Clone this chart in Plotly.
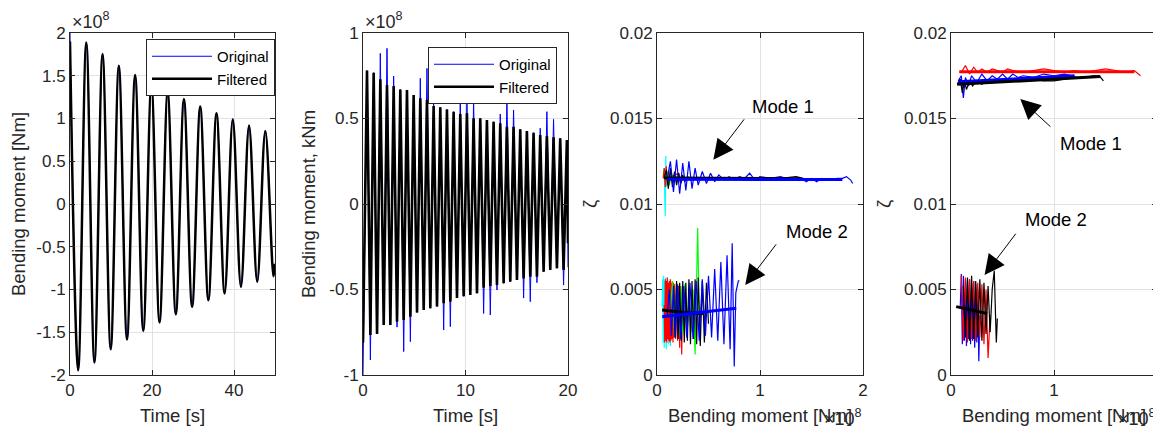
import plotly.graph_objects as go

PAGE_W, PAGE_H = 1161, 428
OFF = 8  # default body margin of the html page
W, H = PAGE_W - OFF, PAGE_H - OFF

# ---------------- Panel 1 : bending moment time history (x1e8 Nm) ----------------
p1_time = [0.00, 1.99, 3.97, 5.96, 7.94, 9.93, 11.91, 13.90, 15.88, 17.87, 19.85, 21.84, 23.82,
           25.81, 27.79, 29.78, 31.76, 33.75, 35.73, 37.72, 39.70, 41.69, 43.67, 45.66, 47.64, 49.63, 50.00]
p1_filtered = [1.90, -1.945, 1.89, -1.855, 1.754, -1.70, 1.617, -1.586, 1.51, -1.484, 1.40, -1.387, 1.31,
               -1.29, 1.227, -1.203, 1.14, -1.125, 1.06, -1.047, 0.99, -0.969, 0.918, -0.91, 0.855, -0.844, -0.70]
p1_original = [2.00, -1.945, 1.89, -1.855, 1.754, -1.70, 1.617, -1.586, 1.51, -1.484, 1.40, -1.387, 1.31,
               -1.29, 1.227, -1.203, 1.14, -1.125, 1.06, -1.047, 0.99, -0.969, 0.918, -0.91, 0.855, -0.844, -0.70]

# ---------------- Panel 2 : bending moment time history (x1e8) ----------------
p2_time = [0.00, 0.39, 0.72, 1.04, 1.37, 1.69, 2.02, 2.34, 2.67, 2.99, 3.32, 3.64, 3.97, 4.29, 4.62, 4.94,
           5.27, 5.59, 5.92, 6.24, 6.57, 6.89, 7.22, 7.54, 7.87, 8.19, 8.52, 8.84, 9.17, 9.49, 9.82, 10.14,
           10.47, 10.79, 11.12, 11.44, 11.77, 12.09, 12.42, 12.74, 13.07, 13.39, 13.72, 14.04, 14.37, 14.69,
           15.02, 15.34, 15.67, 15.99, 16.32, 16.64, 16.97, 17.29, 17.62, 17.94, 18.27, 18.59, 18.92, 19.24,
           19.57, 19.89, 20.00]
p2_filtered = [-0.81, 0.78, -0.766, 0.768, -0.76, 0.729, -0.708, 0.696, -0.708, 0.69, -0.688, 0.67, -0.678,
               0.667, -0.659, 0.637, -0.635, 0.618, -0.62, 0.608, -0.61, 0.573, -0.60, 0.565, -0.58, 0.553,
               -0.571, 0.54, -0.55, 0.526, -0.54, 0.53, -0.532, 0.501, -0.522, 0.501, -0.49, 0.491, -0.48,
               0.481, -0.474, 0.472, -0.464, 0.452, -0.454, 0.452, -0.444, 0.437, -0.435, 0.427, -0.425,
               0.417, -0.425, 0.404, -0.396, 0.398, -0.386, 0.39, -0.376, 0.384, -0.386, 0.374, -0.23]
p2_original = [-1.00, 0.78, -0.912, 0.768, -0.76, 0.881, -0.708, 0.91, -0.708, 0.748, -0.72, 0.67, -0.863,
               0.667, -0.805, 0.637, -0.635, 0.735, -0.62, 0.793, -0.61, 0.60, -0.60, 0.565, -0.737, 0.553,
               -0.717, 0.54, -0.55, 0.618, -0.54, 0.627, -0.532, 0.608, -0.522, 0.501, -0.64, 0.491, -0.649,
               0.481, -0.503, 0.526, -0.464, 0.614, -0.454, 0.55, -0.444, 0.437, -0.55, 0.427, -0.571,
               0.417, -0.46, 0.443, -0.396, 0.54, -0.386, 0.495, -0.376, 0.384, -0.474, 0.374, -0.37]

# ---------------- Panel 3 : damping ratio vs bending moment (x1e8 Nm) ----------------
p3m1_cyan_x = [0.06, 0.07, 0.075, 0.08, 0.085, 0.09, 0.10, 0.11]
p3m1_cyan_y = [0.0116, 0.0121, 0.0105, 0.0093, 0.0128, 0.0110, 0.0118, 0.0114]
p3m1_red_x = [0.06, 0.07, 0.08, 0.09, 0.10, 0.11, 0.12, 0.13, 0.21, 0.23, 0.25]
p3m1_red_y = [0.0115, 0.0121, 0.0110, 0.0122, 0.0111, 0.0119, 0.0113, 0.0116, 0.0118, 0.0112, 0.0115]
p3m1_green_x = [0.08, 0.10, 0.12, 0.14, 0.16, 0.18, 0.20, 0.22, 0.24, 0.26]
p3m1_green_y = [0.0114, 0.0119, 0.0111, 0.0118, 0.0112, 0.0117, 0.0113, 0.0116, 0.0114, 0.0115]
p3m1_black_x = [0.07, 0.09, 0.11, 0.13, 0.15, 0.17, 0.19, 0.21, 0.23, 0.25, 0.27, 0.30, 0.33, 0.36, 0.40,
                0.60, 0.90, 1.20, 1.35, 1.42, 1.38, 1.30]
p3m1_black_y = [0.0115, 0.0120, 0.0109, 0.0121, 0.0110, 0.0119, 0.0111, 0.0118, 0.0112, 0.0117, 0.0113,
                0.0116, 0.0114, 0.0115, 0.0115, 0.0115, 0.0114, 0.0115, 0.0116, 0.0115, 0.0114, 0.0114]
p3m1_blue_x = [0.10, 0.13, 0.16, 0.19, 0.22, 0.25, 0.28, 0.31, 0.34, 0.37, 0.40, 0.44, 0.48, 0.52, 0.56,
               0.60, 0.65, 0.70, 0.75, 0.80, 0.85, 0.90, 0.95, 1.00, 1.10, 1.20, 1.30, 1.40, 1.45, 1.50,
               1.55, 1.60, 1.65, 1.70, 1.75, 1.80, 1.84, 1.88, 1.90]
p3m1_blue_y = [0.0115, 0.0125, 0.0107, 0.0126, 0.0106, 0.0124, 0.0108, 0.0125, 0.0109, 0.0121, 0.0111,
               0.0119, 0.0112, 0.0118, 0.0113, 0.0117, 0.0114, 0.0116, 0.0114, 0.0116, 0.0115, 0.0118,
               0.0114, 0.0116, 0.0115, 0.0116, 0.0114, 0.0115, 0.0113, 0.0115, 0.0113, 0.0115, 0.0114,
               0.0114, 0.0115, 0.0115, 0.0116, 0.0114, 0.0112]
p3m1_black_thick_x = [0.07, 1.40]
p3m1_black_thick_y = [0.01152, 0.01148]
p3m1_blue_thick_x = [0.10, 1.80]
p3m1_blue_thick_y = [0.01145, 0.01143]

p3m2_cyan_x = [0.05, 0.055, 0.06, 0.065, 0.07, 0.075, 0.08, 0.085, 0.09, 0.095, 0.10, 0.105, 0.11, 0.115,
               0.12, 0.125, 0.13, 0.135, 0.14, 0.145, 0.15]
p3m2_cyan_y = [0.0040, 0.0056, 0.0019, 0.0058, 0.0016, 0.0055, 0.0020, 0.0057, 0.0015, 0.0054, 0.0021,
               0.0056, 0.0018, 0.0053, 0.0020, 0.0055, 0.0017, 0.0052, 0.0022, 0.0050, 0.0035]
p3m2_red_x = [0.07, 0.075, 0.08, 0.085, 0.09, 0.095, 0.10, 0.105, 0.11, 0.115, 0.12, 0.125, 0.13, 0.135,
              0.14, 0.145, 0.15, 0.155, 0.16, 0.165, 0.17, 0.18, 0.19, 0.20, 0.21, 0.22, 0.23, 0.24, 0.25, 0.26]
p3m2_red_y = [0.0041, 0.0019, 0.0056, 0.0020, 0.0055, 0.0019, 0.0057, 0.0021, 0.0054, 0.0020, 0.0055,
              0.0019, 0.0056, 0.0020, 0.0054, 0.0021, 0.0055, 0.0019, 0.0054, 0.0022, 0.0053, 0.0021,
              0.0054, 0.0020, 0.0052, 0.0016, 0.0052, 0.0012, 0.0050, 0.0030]
p3m2_green_x = [0.13, 0.15, 0.17, 0.19, 0.21, 0.23, 0.25, 0.27, 0.29, 0.31, 0.33, 0.35, 0.37, 0.395, 0.41]
p3m2_green_y = [0.0038, 0.0055, 0.0022, 0.0054, 0.0023, 0.0052, 0.0024, 0.0053, 0.0022, 0.0051, 0.0025,
                0.0050, 0.0012, 0.0086, 0.0035]
p3m2_black_x = [0.16, 0.175, 0.19, 0.205, 0.22, 0.235, 0.25, 0.265, 0.28, 0.295, 0.31, 0.325, 0.34, 0.355,
                0.37, 0.385, 0.40, 0.42, 0.44, 0.46, 0.48, 0.50]
p3m2_black_y = [0.0050, 0.0022, 0.0055, 0.0021, 0.0054, 0.0020, 0.0055, 0.0019, 0.0054, 0.0020, 0.0056,
                0.0018, 0.0055, 0.0021, 0.0056, 0.0018, 0.0057, 0.0017, 0.0055, 0.0019, 0.0054, 0.0030]
p3m2_blue_x = [0.10, 0.12, 0.14, 0.16, 0.18, 0.20, 0.23, 0.26, 0.29, 0.32, 0.35, 0.38, 0.41, 0.44, 0.47,
               0.50, 0.53, 0.56, 0.59, 0.62, 0.65, 0.68, 0.71, 0.73, 0.75, 0.765, 0.775, 0.79, 0.80]
p3m2_blue_y = [0.0035, 0.0050, 0.0023, 0.0052, 0.0022, 0.0053, 0.0021, 0.0052, 0.0022, 0.0054, 0.0021,
               0.0055, 0.0020, 0.0056, 0.0023, 0.0058, 0.0022, 0.0062, 0.0020, 0.0066, 0.0018, 0.0070,
               0.0015, 0.0077, 0.0005, 0.0048, 0.0051, 0.0055, 0.0055]
p3m2_black_thick_x = [0.05, 0.25, 0.45]
p3m2_black_thick_y = [0.0038, 0.00365, 0.0036]
p3m2_blue_thick_x = [0.05, 0.40, 0.77]
p3m2_blue_thick_y = [0.0034, 0.00365, 0.0039]

# ---------------- Panel 4 : damping ratio vs bending moment (x1e8 Nm) ----------------
p4m1_red_x = [0.10, 0.14, 0.18, 0.22, 0.26, 0.30, 0.35, 0.40, 0.45, 0.50, 0.55, 0.60, 0.70, 0.80, 0.90,
              1.00, 1.10, 1.20, 1.30, 1.40, 1.50, 1.60, 1.70, 1.78, 1.84]
p4m1_red_y = [0.0177, 0.0181, 0.0176, 0.0180, 0.0177, 0.0179, 0.0177, 0.0179, 0.0178, 0.0177, 0.0179,
              0.0178, 0.0177, 0.0178, 0.0179, 0.0178, 0.0177, 0.0178, 0.0177, 0.0178, 0.0179, 0.0178,
              0.0177, 0.0178, 0.0175]
p4m1_blue_x = [0.07, 0.10, 0.12, 0.14, 0.17, 0.20, 0.25, 0.30, 0.35, 0.40, 0.45, 0.50, 0.55, 0.60, 0.65,
               0.70, 0.80, 0.90, 1.00, 1.10, 1.18, 1.22]
p4m1_blue_y = [0.0172, 0.0175, 0.0162, 0.0174, 0.0169, 0.0175, 0.0171, 0.0176, 0.0172, 0.0175, 0.0173,
               0.0176, 0.0173, 0.0176, 0.0174, 0.0175, 0.0174, 0.0176, 0.0175, 0.0176, 0.0175, 0.0174]
p4m1_black_x = [0.06, 0.09, 0.11, 0.13, 0.15, 0.18, 0.21, 0.25, 0.30, 0.35, 0.40, 0.50, 0.60, 0.70, 0.80,
                0.90, 1.00, 1.10, 1.20, 1.30, 1.38, 1.44, 1.48]
p4m1_black_y = [0.0170, 0.0173, 0.0165, 0.0172, 0.0167, 0.0172, 0.0169, 0.0172, 0.0170, 0.0172, 0.0171,
                0.0172, 0.0172, 0.0173, 0.0173, 0.0172, 0.0172, 0.0173, 0.0174, 0.0174, 0.0175, 0.0175,
                0.0172]
p4m1_red_thick_x = [0.08, 1.78]
p4m1_red_thick_y = [0.01773, 0.01773]
p4m1_blue_thick_x = [0.07, 1.20]
p4m1_blue_thick_y = [0.01715, 0.01750]
p4m1_black_thick_x = [0.06, 1.45]
p4m1_black_thick_y = [0.01700, 0.01745]

p4m2_blue_x = [0.09, 0.10, 0.11, 0.12, 0.13, 0.14, 0.15, 0.16, 0.17, 0.18, 0.19, 0.20, 0.21, 0.22, 0.23,
               0.24, 0.25, 0.26, 0.27, 0.28]
p4m2_blue_y = [0.0040, 0.0059, 0.0018, 0.0058, 0.0020, 0.0056, 0.0017, 0.0055, 0.0021, 0.0056, 0.0018,
               0.0054, 0.0020, 0.0055, 0.0016, 0.0053, 0.0019, 0.0050, 0.0008, 0.0035]
p4m2_red_x = [0.10, 0.12, 0.14, 0.16, 0.18, 0.20, 0.22, 0.24, 0.26, 0.28, 0.30, 0.32, 0.34, 0.36, 0.38]
p4m2_red_y = [0.0058, 0.0020, 0.0057, 0.0019, 0.0056, 0.0021, 0.0055, 0.0020, 0.0054, 0.0022, 0.0053,
              0.0018, 0.0050, 0.0010, 0.0035]
p4m2_black_x = [0.12, 0.14, 0.16, 0.18, 0.20, 0.22, 0.24, 0.26, 0.28, 0.30, 0.32, 0.34, 0.36, 0.38, 0.40,
                0.42, 0.44, 0.45]
p4m2_black_y = [0.0052, 0.0022, 0.0057, 0.0020, 0.0058, 0.0021, 0.0055, 0.0022, 0.0056, 0.0020, 0.0054,
                0.0024, 0.0052, 0.0025, 0.0050, 0.0061, 0.0019, 0.0033]
p4m2_black_thick_x = [0.05, 0.35]
p4m2_black_thick_y = [0.0040, 0.0036]

# tick labels
p1_yticks = [-2, -1.5, -1, -0.5, 0, 0.5, 1, 1.5, 2]
p1_yticktext = ["-2", "-1.5", "-1", "-0.5", "0", "0.5", "1", "1.5", "2"]
p1_xticks = [0, 20, 40]
p2_yticks = [-1, -0.5, 0, 0.5, 1]
p2_yticktext = ["-1", "-0.5", "0", "0.5", "1"]
p2_xticks = [0, 10, 20]
zeta_ticks = [0, 0.005, 0.01, 0.015, 0.02]
zeta_ticktext = ["0", "0.005", "0.01", "0.015", "0.02"]
moment_ticks = [0, 1, 2]

BLUE, RED, GREEN, CYAN, BLACK = "#0000ff", "#ff0000", "#00ff00", "#00ffff", "#000000"
AX = "#262626"
GRID = "#e2e2e2"
FONT = "Liberation Sans, Arial, Helvetica, sans-serif"
TICK_SIZE = 17
LABEL_SIZE = 18.5

fig = go.Figure()


def line(x, y, color, width, xa, ya, name=None, legend=None, showlegend=False, shape="linear"):
    fig.add_trace(go.Scatter(x=x, y=y, mode="lines", name=name,
                             line=dict(color=color, width=width, shape=shape, smoothing=1.0),
                             xaxis=xa, yaxis=ya, showlegend=showlegend,
                             legend=legend if legend else "legend", hoverinfo="skip"))


# panel 1
line(p1_time, p1_original, BLUE, 1, "x", "y", "Original", "legend", True, "spline")
line(p1_time, p1_filtered, BLACK, 2.5, "x", "y", "Filtered", "legend", True, "spline")
# panel 2
line(p2_time, p2_original, BLUE, 1, "x2", "y2", "Original", "legend2", True)
line(p2_time, p2_filtered, BLACK, 2.6, "x2", "y2", "Filtered", "legend2", True)
# panel 3
for xs, ys, c in [(p3m1_cyan_x, p3m1_cyan_y, CYAN), (p3m1_red_x, p3m1_red_y, RED),
                  (p3m1_green_x, p3m1_green_y, GREEN), (p3m1_black_x, p3m1_black_y, BLACK),
                  (p3m1_blue_x, p3m1_blue_y, BLUE),
                  (p3m2_cyan_x, p3m2_cyan_y, CYAN), (p3m2_red_x, p3m2_red_y, RED),
                  (p3m2_green_x, p3m2_green_y, GREEN), (p3m2_black_x, p3m2_black_y, BLACK),
                  (p3m2_blue_x, p3m2_blue_y, BLUE)]:
    line(xs, ys, c, 1.2, "x3", "y3")
for xs, ys, c in [(p3m1_black_thick_x, p3m1_black_thick_y, BLACK), (p3m1_blue_thick_x, p3m1_blue_thick_y, BLUE),
                  (p3m2_black_thick_x, p3m2_black_thick_y, BLACK), (p3m2_blue_thick_x, p3m2_blue_thick_y, BLUE)]:
    line(xs, ys, c, 3, "x3", "y3")
# panel 4
for xs, ys, c in [(p4m1_red_x, p4m1_red_y, RED), (p4m1_blue_x, p4m1_blue_y, BLUE),
                  (p4m1_black_x, p4m1_black_y, BLACK),
                  (p4m2_blue_x, p4m2_blue_y, BLUE), (p4m2_red_x, p4m2_red_y, RED),
                  (p4m2_black_x, p4m2_black_y, BLACK)]:
    line(xs, ys, c, 1.2, "x4", "y4")
for xs, ys, c in [(p4m1_red_thick_x, p4m1_red_thick_y, RED), (p4m1_blue_thick_x, p4m1_blue_thick_y, BLUE),
                  (p4m1_black_thick_x, p4m1_black_thick_y, BLACK),
                  (p4m2_black_thick_x, p4m2_black_thick_y, BLACK)]:
    line(xs, ys, c, 3, "x4", "y4")


# layout geometry (page pixels -> paper fractions)
def px(x):
    return (x - OFF) / W


def py(y):
    return 1 - (y - OFF) / H


x_px = [(70, 275), (363, 568), (657, 863), (951, 1157)]
ydom = [py(375), py(33)]


def axis_common():
    return dict(showline=True, linecolor=AX, linewidth=1, mirror="ticks", ticks="inside", ticklen=5,
                tickcolor=AX, tickwidth=1, showgrid=True, gridcolor=GRID, gridwidth=1, zeroline=False,
                tickfont=dict(family=FONT, size=TICK_SIZE, color=AX), ticklabelstandoff=0)


xtitles = ["Time [s]", "Time [s]", "Bending moment [Nm]", "Bending moment [Nm]"]
ytitles = ["Bending moment [Nm]", "Bending moment, kNm", "ζ", "ζ"]
xranges = [[0, 50], [0, 20], [0, 2], [0, 2]]
yranges = [[-2, 2], [-1, 1], [0, 0.02], [0, 0.02]]
xtickv = [p1_xticks, p2_xticks, moment_ticks, moment_ticks]
ytickv = [p1_yticks, p2_yticks, zeta_ticks, zeta_ticks]
ytickt = [p1_yticktext, p2_yticktext, zeta_ticktext, zeta_ticktext]

layout = dict(width=W, height=H, margin=dict(l=0, r=0, t=0, b=0), paper_bgcolor="white",
              plot_bgcolor="white", font=dict(family=FONT, color=AX), template="none")
for i in range(4):
    sx = "" if i == 0 else str(i + 1)
    xa = axis_common()
    xa.update(domain=[px(x_px[i][0]), px(x_px[i][1])], range=xranges[i], tickvals=xtickv[i],
              ticktext=[str(v) for v in xtickv[i]], anchor="y" + sx,
              title=dict(text=xtitles[i], font=dict(family=FONT, size=LABEL_SIZE, color=AX), standoff=9))
    ya = axis_common()
    ya.update(domain=ydom, range=yranges[i], tickvals=ytickv[i], ticktext=ytickt[i], anchor="x" + sx,
              title=dict(text=ytitles[i], font=dict(family=FONT, size=LABEL_SIZE, color=AX), standoff=8))
    layout["xaxis" + sx] = xa
    layout["yaxis" + sx] = ya

legend_style = dict(bgcolor="white", bordercolor=AX, borderwidth=1, font=dict(family=FONT, size=15, color="#000"),
                    xanchor="right", yanchor="top", itemwidth=60, tracegroupgap=0)
layout["legend"] = dict(legend_style, x=px(275), y=py(39))
layout["legend2"] = dict(legend_style, x=px(557), y=py(47))

annotations = []
# exponent labels
for xp in [70, 363]:
    annotations.append(dict(text="×10<sup>8</sup>", xref="paper", yref="paper", x=px(xp), y=py(34),
                            xanchor="left", yanchor="bottom", showarrow=False,
                            font=dict(family=FONT, size=18, color=AX)))
for xp in [864, 1158]:
    annotations.append(dict(text="×10<sup>8</sup>", xref="paper", yref="paper", x=px(xp), y=py(417),
                            xanchor="right", yanchor="middle", showarrow=False,
                            font=dict(family=FONT, size=18, color=AX)))
# Mode labels and arrows
mode_labels = [("x3", "y3", "Mode 1", 1.227, 0.01569, 0.547, 0.01259, 0.857, 0.01504),
               ("x3", "y3", "Mode 2", 1.553, 0.00839, 0.857, 0.00527, 1.168, 0.00773),
               ("x4", "y4", "Mode 1", 1.356, 0.01356, 0.673, 0.01614, 0.980, 0.01444),
               ("x4", "y4", "Mode 2", 1.022, 0.00907, 0.326, 0.00585, 0.640, 0.00835)]
for xa, ya, txt, tx, ty, hx, hy, tlx, tly in mode_labels:
    annotations.append(dict(text=txt, xref=xa, yref=ya, x=tx, y=ty, showarrow=False,
                            font=dict(family=FONT, size=18.5, color="#000")))
    annotations.append(dict(text="", xref=xa, yref=ya, x=hx, y=hy, axref=xa, ayref=ya, ax=tlx, ay=tly,
                            showarrow=True, arrowhead=2, arrowsize=4, arrowwidth=1, arrowcolor="#000"))
layout["annotations"] = annotations

fig.update_layout(**layout)
fig.write_html("out.html")
